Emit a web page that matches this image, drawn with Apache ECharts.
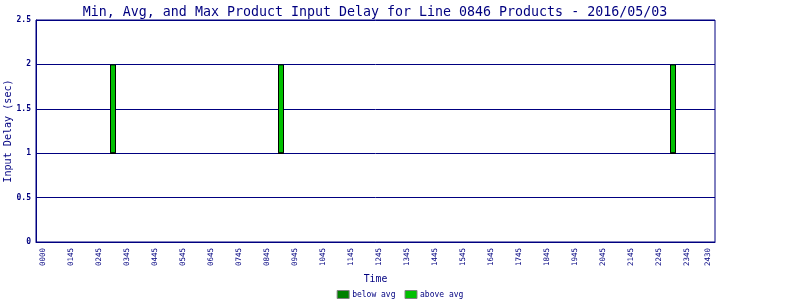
<!DOCTYPE html>
<html><head><meta charset="utf-8">
<script src="https://cdn.jsdelivr.net/npm/echarts@6/dist/echarts.min.js"></script>
<style>html,body{margin:0;padding:0;background:#fff}#c{width:800px;height:300px}</style>
</head><body><div id="c"></div>
<script>
// quarter-hour slots from -0:15 to 24:00 (index 0 = -0:15)
var slotCount = 98;
var categories = [];
for (var i = 0; i < slotCount; i++) categories.push(String(i));
// tick labels: slot index -> label text
var tickSlots = [1,5,9,13,17,21,25,29,33,37,41,45,49,53,57,61,65,69,73,77,81,85,89,93,96];
var tickLabels = ['0000','0145','0245','0345','0445','0545','0645','0745','0845','0945','1045','1145','1245','1345','1445','1545','1645','1745','1845','1945','2045','2145','2245','2345','2430'];
// data points (slot index, min, avg, max in seconds)
var pointSlots = [11, 35, 91];
var minDelay = [1, 1, 1];
var avgDelay = [1, 1, 1];
var maxDelay = [2, 2, 2];

var baseData = [], belowData = [], aboveData = [];
for (var k = 0; k < slotCount; k++) { baseData.push('-'); belowData.push('-'); aboveData.push('-'); }
pointSlots.forEach(function (s, j) {
  baseData[s] = minDelay[j];
  belowData[s] = avgDelay[j] - minDelay[j];
  aboveData[s] = maxDelay[j] - avgDelay[j];
});
var labelMap = {};
tickSlots.forEach(function (s, j) { labelMap[s] = tickLabels[j]; });

var NAVY = '#000080';
var FONT = '"DejaVu Sans Mono", "Liberation Mono", monospace';
var chart = echarts.init(document.getElementById('c'), null, {renderer: 'canvas'});
chart.setOption({
  animation: false,
  backgroundColor: '#fff',
  title: {
    text: 'Min, Avg, and Max Product Input Delay for Line 0846 Products - 2016/05/03',
    left: 370, textAlign: 'center', top: 1,
    textStyle: {color: NAVY, fontFamily: FONT, fontSize: 13.3, fontWeight: 'normal'}
  },
  legend: {
    data: ['below avg', 'above avg'],
    top: 290, left: 'center',
    itemWidth: 12, itemHeight: 8, itemGap: 9, padding: 0,
    itemStyle: {borderColor: '#808080', borderWidth: 1},
    textStyle: {color: NAVY, fontFamily: FONT, fontSize: 8, padding: [0, 0, 0, -2]},
    icon: 'rect'
  },
  grid: {left: 36, right: 85, top: 20, bottom: 58, outerBoundsMode: 'none', containLabel: false,
         show: true, borderColor: NAVY, borderWidth: 1, backgroundColor: 'transparent'},
  xAxis: {
    type: 'category', data: categories, boundaryGap: false,
    name: 'Time', nameLocation: 'middle', nameGap: 31,
    nameTextStyle: {color: NAVY, fontFamily: FONT, fontSize: 9.8},
    axisLine: {lineStyle: {color: NAVY}},
    axisTick: {show: false},
    splitLine: {show: false},
    axisLabel: {
      rotate: 90, color: NAVY, fontFamily: FONT, fontSize: 7.5, margin: 6,
      interval: function (idx) { return labelMap[idx] !== undefined; },
      formatter: function (v, idx) { return labelMap[idx] || ''; }
    }
  },
  yAxis: {
    type: 'value', min: 0, max: 2.5, interval: 0.5,
    name: 'Input Delay (sec)', nameLocation: 'middle', nameGap: 23, nameMoveOverlap: false,
    nameTextStyle: {color: NAVY, fontFamily: FONT, fontSize: 10.1},
    axisLine: {show: true, lineStyle: {color: NAVY}},
    axisTick: {show: false},
    splitLine: {show: true, lineStyle: {color: NAVY, width: 1}},
    axisLabel: {color: NAVY, fontFamily: FONT, fontSize: 8, fontWeight: 'bold', margin: 5}
  },
  series: [
    {name: 'base', type: 'bar', stack: 'd', data: baseData, barWidth: 6,
     itemStyle: {color: 'transparent'}, silent: true},
    {name: 'below avg', type: 'bar', stack: 'd', data: belowData, barWidth: 6,
     itemStyle: {color: '#008000', borderColor: '#000', borderWidth: 1}},
    {name: 'above avg', type: 'bar', stack: 'd', data: aboveData, barWidth: 6,
     itemStyle: {color: '#00C000', borderColor: '#000', borderWidth: 1}}
  ]
});
</script></body></html>
